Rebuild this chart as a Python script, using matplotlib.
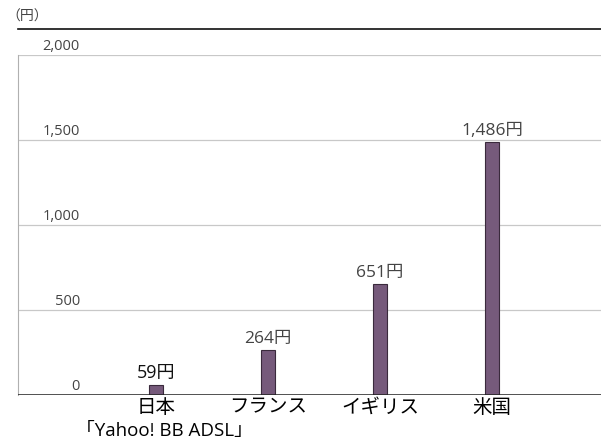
import matplotlib
matplotlib.use("Agg")
import matplotlib.pyplot as plt
from matplotlib.lines import Line2D

plt.rcParams["font.family"] = ["Open Sans", "Noto Sans CJK JP", "DejaVu Sans"]

countries = ["日本", "フランス", "イギリス", "米国"]
prices = [59, 264, 651, 1486]
value_labels = ["59円", "264円", "651円", "1,486円"]
yticks = [0, 500, 1000, 1500, 2000]
ytick_labels = ["0", "500", "1,000", "1,500", "2,000"]

W, H = 601, 439
fig = plt.figure(figsize=(W / 100, H / 100), dpi=100)
ax = fig.add_axes([18 / W, 1 - 396 / H, 583 / W, 340 / H])

x = list(range(len(countries)))
ax.bar(x, prices, width=0.125, color="#765a7b", edgecolor="#3a2a3c", linewidth=0.8, zorder=3)

ax.set_xlim(-1.232, 3.973)
ax.set_ylim(0, 2000)
for v in yticks[1:]:
    ax.axhline(v, color="#c8c8c8", lw=0.9, zorder=1)
ax.axhline(0, color="#222222", lw=1.1, zorder=4)

for v, lab in zip(yticks, ytick_labels):
    ax.text(-0.68, v + 12, lab, ha="right", va="bottom", fontsize=10.5, color="#444444")

for xi, v, lab in zip(x, prices, value_labels):
    ax.annotate(lab, (xi, v), xytext=(0, 3), textcoords="offset points",
                ha="center", va="bottom", fontsize=13 if xi == 0 else 12.5,
                color="#111111" if xi == 0 else "#444444")

ax.set_xticks(x)
ax.set_xticklabels(countries, fontsize=14)
ax.tick_params(axis="x", length=0, pad=2)
ax.set_yticks([])
for s in ["top", "right", "bottom"]:
    ax.spines[s].set_visible(False)
ax.spines["left"].set_color("#b0b0b0")

fig.text(76 / W, 1 - 431 / H, "「Yahoo! BB ADSL」", fontsize=13.5, va="center", ha="left")
fig.text(6 / W, 1 - 17 / H, "（円）", fontsize=10, color="#444444", va="center", ha="left",
         family=["Noto Sans CJK JP"])
fig.add_artist(Line2D([18 / W, 1], [1 - 30 / H, 1 - 30 / H], color="#111111", lw=1.2,
                      transform=fig.transFigure))

fig.savefig("out.png", dpi=100)
